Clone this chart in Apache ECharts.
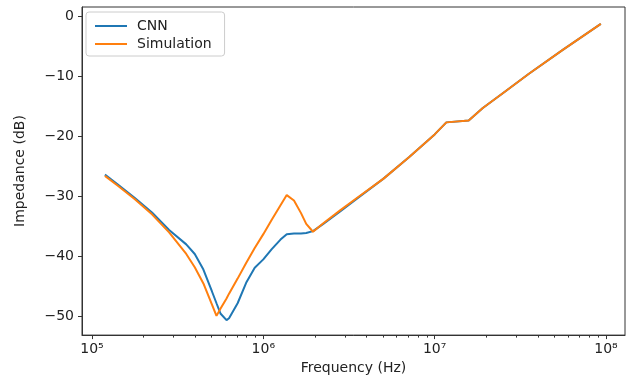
<!DOCTYPE html>
<html>
<head>
<meta charset="utf-8">
<script src="https://cdn.jsdelivr.net/npm/echarts@6/dist/echarts.min.js"></script>
<style>
  html, body { margin: 0; padding: 0; background: #fff; }
  #chart { width: 627px; height: 380px; }
</style>
</head>
<body>
<div id="chart"></div>
<script>
// frequency points (Hz), shared by both curves
const freq = [1.19e5, 1.41e5, 1.78e5, 2.24e5, 2.82e5, 3.55e5, 3.98e5, 4.47e5, 5.01e5, 5.33e5,
  5.62e5, 6.1e5, 6.31e5, 7.08e5, 7.94e5, 8.91e5, 1.0e6, 1.12e6, 1.26e6, 1.37e6,
  1.51e6, 1.66e6, 1.78e6, 1.95e6, 2.24e6, 2.82e6, 3.55e6, 5.01e6, 7.08e6, 1.0e7,
  1.17e7, 1.58e7, 1.91e7, 2.51e7, 3.55e7, 5.62e7, 9.33e7]

// impedance (dB)
const cnn = [-26.4, -28.0, -30.3, -32.7, -35.6, -38.0, -39.6, -42.2, -45.8, -47.8,
  -49.5, -50.6, -50.3, -47.8, -44.4, -41.9, -40.5, -38.8, -37.2, -36.3,
  -36.2, -36.2, -36.1, -35.8, -34.6, -32.5, -30.3, -27.1, -23.5, -19.7,
  -17.7, -17.4, -15.3, -12.8, -9.6, -5.6, -1.3]
const simulation = [-26.6, -28.2, -30.5, -33.0, -36.0, -39.6, -41.8, -44.5, -48.0, -49.9,
  -48.7, -47.0, -46.2, -43.7, -41.1, -38.6, -36.3, -33.9, -31.5, -29.8,
  -30.7, -32.8, -34.6, -35.9, -34.5, -32.3, -30.2, -27.1, -23.5, -19.7,
  -17.7, -17.4, -15.3, -12.8, -9.6, -5.6, -1.3]

const seriesNames = ['CNN', 'Simulation']
const xMajor = [1e5, 1e6, 1e7, 1e8]
const xMinor = [2e5, 3e5, 4e5, 5e5, 6e5, 7e5, 8e5, 9e5,
  2e6, 3e6, 4e6, 5e6, 6e6, 7e6, 8e6, 9e6,
  2e7, 3e7, 4e7, 5e7, 6e7, 7e7, 8e7, 9e7]
const yTicks = [-50, -40, -30, -20, -10, 0]

const color = ['#1f77b4', '#ff7f0e']
const font = 'DejaVu Sans'
const sup = { 5: '⁵', 6: '⁶', 7: '⁷', 8: '⁸' }

const chart = echarts.init(document.getElementById('chart'), null, { renderer: 'canvas' })

const xRange = { min: 87460, max: 1.291e8 }

const option = {
  animation: false,
  color,
  grid: {
    left: 82, right: 2, top: 7, bottom: 40,
    show: true, borderColor: '#333', borderWidth: 1, backgroundColor: 'transparent',
  },
  legend: {
    data: seriesNames,
    orient: 'vertical',
    left: 86, top: 12,
    padding: [7, 13, 5, 9],
    icon: 'rect',
    itemWidth: 32, itemHeight: 2, itemGap: 4,
    backgroundColor: '#fff',
    borderColor: '#ccc', borderWidth: 1, borderRadius: 3,
    textStyle: { fontFamily: font, fontSize: 14, color: '#222', padding: [0, 0, 0, 5] },
  },
  xAxis: [
    {
      type: 'log', logBase: 10, ...xRange,
      name: 'Frequency (Hz)', nameLocation: 'middle', nameGap: 24,
      nameTextStyle: { fontFamily: font, fontSize: 14, color: '#222' },
      axisLine: { show: true, onZero: false, lineStyle: { color: '#333' } },
      axisTick: { show: true, length: 4, customValues: xMajor, lineStyle: { color: '#333' } },
      axisLabel: {
        customValues: xMajor, margin: 7,
        fontFamily: font, fontSize: 14, color: '#222',
        formatter: v => '10' + sup[Math.round(Math.log10(v))],
      },
      splitLine: { show: false },
      minorTick: { show: false },
    },
    {
      type: 'log', logBase: 10, ...xRange,
      position: 'bottom', gridIndex: 0,
      axisLine: { show: false, onZero: false },
      axisTick: { show: true, length: 2.5, customValues: xMinor, lineStyle: { color: '#333' } },
      axisLabel: { show: false },
      splitLine: { show: false },
    },
  ],
  yAxis: {
    type: 'value', min: -53.1, max: 1.5,
    name: 'Impedance (dB)', nameLocation: 'middle', nameGap: 55,
    nameTextStyle: { fontFamily: font, fontSize: 14, color: '#222' },
    axisLine: { show: true, onZero: false, lineStyle: { color: '#333' } },
    axisTick: { show: true, length: 4, customValues: yTicks, lineStyle: { color: '#333' } },
    axisLabel: {
      customValues: yTicks, margin: 8,
      fontFamily: font, fontSize: 14, color: '#222',
      formatter: v => String(v).replace('-', '\u2212'),
    },
    splitLine: { show: false },
  },
  series: [
    {
      name: seriesNames[0], type: 'line', symbol: 'none',
      lineStyle: { width: 2, color: color[0] },
      data: freq.map((f, i) => [f, cnn[i]]),
    },
    {
      name: seriesNames[1], type: 'line', symbol: 'none',
      lineStyle: { width: 2, color: color[1] },
      data: freq.map((f, i) => [f, simulation[i]]),
    },
  ],
}

chart.setOption(option)
</script>
</body>
</html>
